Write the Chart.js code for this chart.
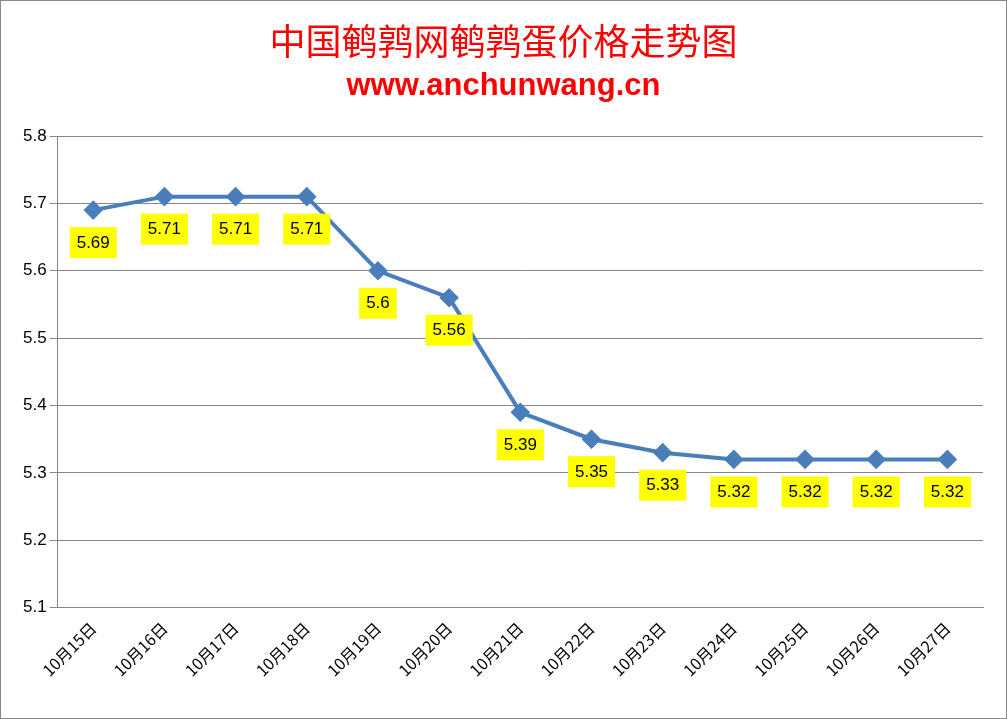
<!DOCTYPE html>
<html><head><meta charset="utf-8">
<script src="https://cdn.jsdelivr.net/npm/chart.js@4"></script>
<style>
html,body{margin:0;padding:0;background:#fff;}
#wrap{position:relative;width:1005px;height:717px;border:1px solid #888;}
.t1{position:absolute;top:12px;left:0;width:100%;text-align:center;color:#f00;font:36px "Noto Sans CJK SC",serif;}
.t2{position:absolute;top:66px;left:0;width:100%;text-align:center;color:#f00;font:bold 31px "Liberation Sans",Arial,sans-serif;}
canvas{position:absolute;left:0;top:0;}
</style></head><body>
<div id="wrap">
<canvas id="c" width="1005" height="717"></canvas>
<div class="t1">中国鹌鹑网鹌鹑蛋价格走势图</div>
<div class="t2">www.anchunwang.cn</div>
</div>
<script>
var dates = ['10月15日','10月16日','10月17日','10月18日','10月19日','10月20日','10月21日','10月22日','10月23日','10月24日','10月25日','10月26日','10月27日'];
var prices = [5.69, 5.71, 5.71, 5.71, 5.6, 5.56, 5.39, 5.35, 5.33, 5.32, 5.32, 5.32, 5.32];

// yellow value boxes under each point
var labelBoxes = {
    id: 'labelBoxes',
    afterDatasetsDraw: function(chart) {
        var ctx = chart.ctx;
        var meta = chart.getDatasetMeta(0);
        ctx.save();
        ctx.font = '17px "Liberation Sans", Arial, sans-serif';
        ctx.textAlign = 'center';
        ctx.textBaseline = 'middle';
        meta.data.forEach(function(pt, i) {
            var txt = String(prices[i]);
            var w = ctx.measureText(txt).width + 14;
            var cy = pt.y + 32;
            ctx.fillStyle = '#ffff00';
            ctx.fillRect(pt.x - w / 2, cy - 15, w, 31);
            ctx.fillStyle = '#000';
            ctx.fillText(txt, pt.x, cy + 1);
        });
        ctx.restore();
    }
};

new Chart(document.getElementById('c'), {
    type: 'line',
    data: { labels: dates, datasets: [{
        data: prices, borderColor: '#4a7ebb', borderWidth: 4,
        pointStyle: 'rectRot', pointRadius: 7, pointBackgroundColor: '#4a7ebb', pointBorderColor: '#4a7ebb',
        tension: 0
    }] },
    options: {
        responsive: false, animation: false,
        layout: { padding: { top: 135, left: 19, right: 23, bottom: 35 } },
        plugins: { legend: { display: false }, tooltip: { enabled: false } },
        scales: {
            x: { offset: true, grid: { display: false }, border: { color: '#868686' },
                 ticks: { color: '#000', maxRotation: 45, minRotation: 45, font: { size: 16, family: '"Noto Sans CJK SC", sans-serif' } } },
            y: { min: 5.1, max: 5.8, grid: { color: '#868686', drawTicks: true }, border: { color: '#868686' },
                 ticks: { stepSize: 0.1, color: '#000', font: { size: 17, family: '"Liberation Sans", Arial, sans-serif' },
                          callback: function(v) { return v.toFixed(1); } } }
        }
    },
    plugins: [labelBoxes]
});
</script>
</body></html>
